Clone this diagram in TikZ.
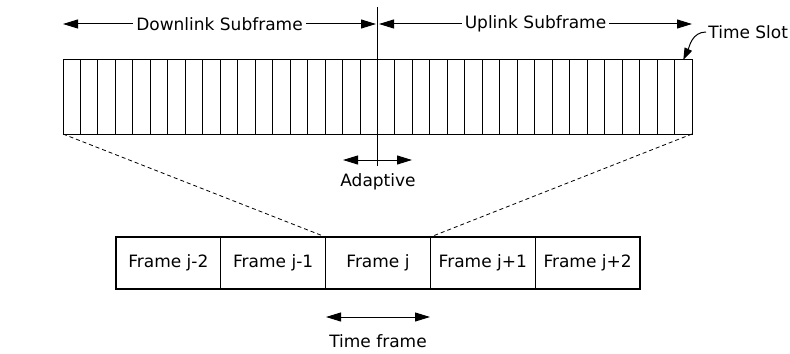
\documentclass[tikz,border=0pt]{standalone}
\usepackage{fontspec}
\setmainfont{DejaVu Sans}
\usetikzlibrary{positioning}
\usetikzlibrary{arrows.meta}

\begin{document}
\begin{tikzpicture} [x=0.5pt, y=-0.5pt, font=\fontsize{8.5}{10}\selectfont]
    % styles for the slots, the frames and the span arrows
    \tikzstyle{slot} = [draw=black, line width=0.5pt, inner sep=0pt, outer sep=0pt, minimum width=8.736pt, minimum height=37pt]
    \tikzstyle{framebox} = [draw=black, line width=0.6pt, inner sep=0pt, outer sep=0pt, minimum width=52.4pt, minimum height=26pt]
    \tikzstyle{spanarrow} = [line width=0.5pt, {Triangle[length=7.5pt, width=4.5pt]}-{Triangle[length=7.5pt, width=4.5pt]}]
    \tikzstyle{spantext} = [fill=white, inner sep=1.5pt]
    \tikzstyle{zoomline} = [line width=0.4pt, dash pattern=on 2pt off 1.5pt]

    \useasboundingbox (0, 0) rectangle (790, 353);

    % make the 36 time slots in one row using forloop
    \foreach \i in {1, 2, ..., 36} {
        \node (s\i) [slot] at ({63 + (\i-0.5)*17.472}, 97) {};
    }

    % the five frames side by side
    \node (F1) [framebox] at (168.4, 263) {Frame j-2};
    \node (F2) [framebox, right=0pt of F1] {Frame j-1};
    \node (F3) [framebox, right=0pt of F2] {Frame j};
    \node (F4) [framebox, right=0pt of F3] {Frame j+1};
    \node (F5) [framebox, right=0pt of F4] {Frame j+2};

    % border between downlink and uplink
    \coordinate (divT) at (377.5, 7);
    \coordinate (divB) at (377.5, 166);
    \draw[line width=0.5pt] (divT) -- (divB);

    % subframe spans above the slots
    \coordinate (dlL) at (63, 24);
    \coordinate (dlR) at (376, 24);
    \coordinate (ulL) at (379, 24);
    \coordinate (ulR) at (692, 24);
    \draw[spanarrow] (dlL) -- (dlR) node (dl) [spantext, midway] {Downlink Subframe};
    \draw[spanarrow] (ulL) -- (ulR) node (ul) [spantext, midway] {Uplink Subframe};

    % time slot pointer
    \node (ts) [anchor=west, inner sep=1pt] at (706, 32) {Time Slot};
    \draw[line width=0.5pt, -{Triangle[length=6pt, width=4pt]}] (ts.west) to[out=180, in=65] (s36.north);

    % adaptive border
    \coordinate (adL) at (343, 160);
    \coordinate (adR) at (412, 160);
    \draw[spanarrow] (adL) -- (adR);
    \node (adapt) at (378, 182) {Adaptive};

    % one frame is zoomed out into slots
    \draw[zoomline] (s1.south west) -- (F3.north west);
    \draw[zoomline] (s36.south east) -- (F4.north west);

    % length of one frame
    \coordinate (tfL) at (326, 317);
    \coordinate (tfR) at (430, 317);
    \draw[spanarrow] (tfL) -- (tfR);
    \node (tf) at (378, 341) {Time frame};
\end{tikzpicture}
\end{document}
